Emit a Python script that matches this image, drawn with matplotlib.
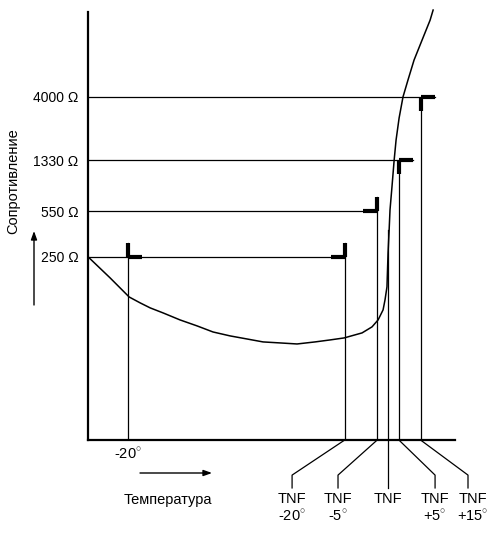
import matplotlib
matplotlib.use("Agg")
import matplotlib.pyplot as plt
import matplotlib.transforms as mtransforms

# ── Data (temperature in °C with TNF taken as 100, resistance in Ω) ──
TNF = 100

levels_ohm = [250, 550, 1330, 4000]
level_labels = ["250 Ω", "550 Ω", "1330 Ω", "4000 Ω"]

# switching points: (temperature, resistance, tick to the right?, tick upward?)
switch_temp = [-20, TNF - 20, TNF - 5, TNF + 5, TNF + 15]
switch_ohm = [250, 250, 550, 1330, 4000]
tick_right = [True, False, False, True, True]
tick_up = [True, True, True, False, False]

# end of each resistance line (temperature)
line_end_temp = [TNF - 20, TNF - 5, TNF + 5, TNF + 15]
line_end_tick = [False, False, True, True]

# marks under the axis
tnf_temps = [TNF - 20, TNF - 5, TNF, TNF + 5, TNF + 15]
tnf_labels = ["TNF\n-20$^{\\circ}$", "TNF\n-5$^{\\circ}$", "TNF",
              "TNF\n+5$^{\\circ}$", "TNF\n+15$^{\\circ}$"]

# resistance curve
curve_temp = [-38.4, -28.3, -19.5, -14.4, -9.8, -3.8, 4.0, 11.9, 19.2, 27.1,
              34.9, 42.3, 50.2, 58.0, 66.3, 73.2, 79.7, 88.0, 92.6, 95.4,
              97.7, 98.6, 99.5, 100.0, 100.5, 100.9, 101.8, 102.8, 103.7,
              105.1, 106.9, 109.2, 112.0, 115.7, 119.4, 120.8]
curve_ohm = [250, 174, 125, 112.8, 103.5, 94.8, 84, 75.7, 68.2, 63.7,
             60.4, 57.4, 56.4, 55.4, 57.4, 59.4, 61.5, 67.1, 74.5, 84,
             100, 119, 149, 268, 399, 564, 840, 1330, 1895,
             2775, 4000, 5360, 7570, 10700, 15100, 18000]

# ── Layout ─────────────────────────────────────────────────
X_LIM = (-38.5, 130.9)
Y_LIM = (10.5, 17400)
TICK_DT = 6.5         # length of the thick marks, °C
TICK_FACTOR = 1.275   # length of the thick marks, ratio on the log axis
LEADER_LABEL_T = [55.7, 76.9, 100.0, 121.7, 136.9]
FONT = "Liberation Sans"

plt.rcParams["font.family"] = [FONT, "DejaVu Sans"]
plt.rcParams["mathtext.fontset"] = "custom"
plt.rcParams["mathtext.rm"] = FONT

fig = plt.figure(figsize=(5.0, 5.37), dpi=100)
ax = fig.add_axes([88 / 500, 97 / 537, 367 / 500, 428 / 537])
ax.set_xlim(*X_LIM)
ax.set_yscale("log")
ax.set_ylim(*Y_LIM)

for side in ("top", "right"):
    ax.spines[side].set_visible(False)
for side in ("left", "bottom"):
    ax.spines[side].set_linewidth(1.6)

ax.set_yticks(levels_ohm, level_labels, fontsize=10)
ax.yaxis.set_minor_locator(matplotlib.ticker.NullLocator())
ax.set_xticks([-20], ["-20$^{\\circ}$"], fontsize=10.5)
ax.tick_params(axis="y", length=0, pad=7)
ax.tick_params(axis="x", length=0, pad=5)

# resistance lines
for r, t_end, ext in zip(levels_ohm, line_end_temp, line_end_tick):
    ax.plot([X_LIM[0], t_end + (TICK_DT if ext else 0)], [r, r],
            color="black", lw=0.9)

# switching verticals and thick L marks
for t, r, right, up in zip(switch_temp, switch_ohm, tick_right, tick_up):
    top = r * TICK_FACTOR if up else r
    ax.plot([t, t], [Y_LIM[0], top], color="black", lw=0.9)
    dx = TICK_DT if right else -TICK_DT
    ry = r * TICK_FACTOR if up else r / TICK_FACTOR
    ax.plot([t, t + dx], [r, r], color="black", lw=3, solid_capstyle="butt")
    ax.plot([t, t], [r, ry], color="black", lw=3, solid_capstyle="butt")

# nominal TNF vertical
ax.plot([TNF, TNF], [Y_LIM[0], 400], color="black", lw=0.9)

# characteristic curve
ax.plot(curve_temp, curve_ohm, color="black", lw=1.1, clip_on=False,
        solid_joinstyle="round")

# leaders and labels below the axis
trans = mtransforms.blended_transform_factory(ax.transData, ax.transAxes)
for t, lt, lab in zip(tnf_temps, LEADER_LABEL_T, tnf_labels):
    ax.plot([t, lt, lt], [0, -0.082, -0.112], color="black", lw=0.9,
            transform=trans, clip_on=False)
    ax.text(lt + (2.3 if t == TNF + 15 else 0), -0.122, lab, transform=trans,
            ha="center", va="top", fontsize=10.5, linespacing=1.25)

# axis titles and arrows
fig.text(13 / 500, 1 - 181 / 537, "Сопротивление", rotation=90,
         ha="center", va="center", fontsize=10.5)
fig.text(168 / 500, 1 - 500 / 537, "Температура",
         ha="center", va="center", fontsize=10.5)

arrow = dict(arrowstyle="-|>,head_length=0.5,head_width=0.18",
             color="black", lw=1, shrinkA=0, shrinkB=0)
ax.annotate("", xy=(212 / 500, 1 - 473 / 537), xytext=(140 / 500, 1 - 473 / 537),
            xycoords="figure fraction", textcoords="figure fraction",
            arrowprops=arrow)
ax.annotate("", xy=(34 / 500, 1 - 231 / 537), xytext=(34 / 500, 1 - 305 / 537),
            xycoords="figure fraction", textcoords="figure fraction",
            arrowprops=arrow)

fig.savefig("out.png", dpi=100)
